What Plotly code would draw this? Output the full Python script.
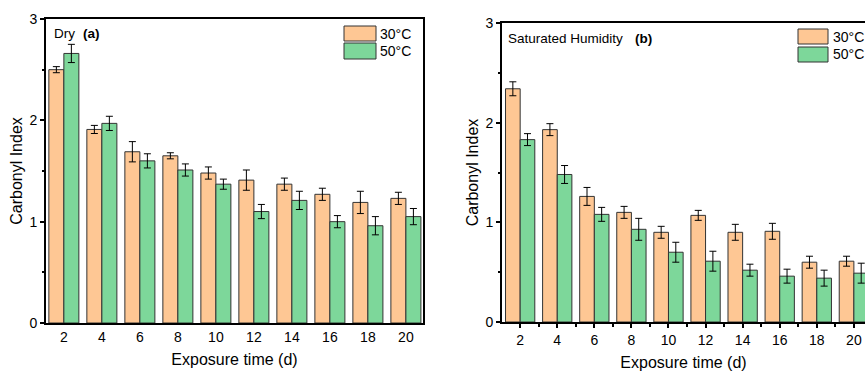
import plotly.graph_objects as go

# ---------------- data ----------------
days = ["2", "4", "6", "8", "10", "12", "14", "16", "18", "20"]

dry_30 = [2.50, 1.91, 1.69, 1.65, 1.48, 1.41, 1.37, 1.27, 1.19, 1.23]
dry_30_err = [0.03, 0.04, 0.10, 0.03, 0.06, 0.10, 0.06, 0.06, 0.11, 0.06]
dry_50 = [2.66, 1.97, 1.60, 1.51, 1.37, 1.10, 1.21, 1.00, 0.96, 1.05]
dry_50_err = [0.09, 0.07, 0.07, 0.06, 0.05, 0.07, 0.09, 0.06, 0.09, 0.08]

sat_30 = [2.34, 1.93, 1.26, 1.10, 0.90, 1.07, 0.90, 0.91, 0.60, 0.61]
sat_30_err = [0.07, 0.06, 0.09, 0.06, 0.06, 0.05, 0.08, 0.08, 0.06, 0.05]
sat_50 = [1.83, 1.48, 1.08, 0.93, 0.70, 0.61, 0.52, 0.46, 0.44, 0.49]
sat_50_err = [0.06, 0.09, 0.07, 0.11, 0.10, 0.10, 0.06, 0.07, 0.08, 0.10]

series_names = ["30°C", "50°C"]
y_ticks = [0, 1, 2, 3]

# ---------------- styles ----------------
W, H = 865, 372
C30 = "#FEC794"
C50 = "#7DD79A"
EDGE = "#333333"
FONT = "Liberation Sans, Arial, sans-serif"

def px_x(p):
    return p / W

def px_y(p):
    return 1 - p / H

xpos = list(range(len(days)))

fig = go.Figure()

def add_bars(vals, errs, color, name, xa, ya):
    fig.add_trace(go.Bar(
        x=xpos, y=vals, name=name, xaxis=xa, yaxis=ya,
        marker=dict(color=color, line=dict(color=EDGE, width=1)),
        error_y=dict(type="data", array=errs, color="black", thickness=1, width=3.5),
        showlegend=False,
    ))

add_bars(dry_30, dry_30_err, C30, series_names[0], "x", "y")
add_bars(dry_50, dry_50_err, C50, series_names[1], "x", "y")
add_bars(sat_30, sat_30_err, C30, series_names[0], "x2", "y2")
add_bars(sat_50, sat_50_err, C50, series_names[1], "x2", "y2")

tick_font = dict(family=FONT, size=14, color="black")
title_font = dict(family=FONT, size=16, color="black")

common_x = dict(
    tickmode="array", tickvals=xpos, ticktext=days,
    showgrid=False, zeroline=False, automargin=False,
    showline=True, linecolor="black", linewidth=2, mirror=True,
    tickfont=tick_font,
    title=dict(text="Exposure time (d)", font=title_font, standoff=10),
)
common_y = dict(
    range=[0, 3], tickvals=y_ticks,
    showgrid=False, zeroline=False, automargin=False,
    showline=True, linecolor="black", linewidth=2,
    ticks="outside", ticklen=4, tickwidth=1.5, tickcolor="black",
    minor=dict(ticks="outside", ticklen=2, dtick=0.5, tickcolor="black", tickwidth=1.5),
    tickfont=tick_font,
    title=dict(text="Carbonyl Index", font=title_font, standoff=3),
)

fig.update_layout(
    width=W, height=H,
    margin=dict(l=0, r=0, t=0, b=0),
    paper_bgcolor="white", plot_bgcolor="white",
    barmode="group", bargap=0.21, bargroupgap=0,
    font=dict(family=FONT, color="black"),
    showlegend=False,
    xaxis=dict(common_x, domain=[px_x(46), px_x(423)], range=[-0.47, 9.45],
               ticks="", anchor="y"),
    yaxis=dict(common_y, domain=[px_y(323), px_y(19)], anchor="x", mirror=True),
    xaxis2=dict(common_x, domain=[px_x(502), 1.0], range=[-0.49, 9.3],
                ticks="outside", ticklen=4, tickwidth=1.5, tickcolor="black",
                minor=dict(ticks="outside", ticklen=3, tickvals=[i + 0.5 for i in xpos],
                           tickcolor="black", tickwidth=1.5),
                anchor="y2"),
    yaxis2=dict(common_y, domain=[px_y(322), px_y(23)], anchor="x2", mirror=False),
)

# ---------------- panel labels ----------------
lab_font = dict(family=FONT, size=13.5, color="black")
fig.add_annotation(x=px_x(52), y=px_y(33), xref="paper", yref="paper", text="Dry",
                   showarrow=False, xanchor="left", yanchor="middle", font=lab_font)
fig.add_annotation(x=px_x(81), y=px_y(33), xref="paper", yref="paper", text="<b>(a)</b>",
                   showarrow=False, xanchor="left", yanchor="middle", font=lab_font)
fig.add_annotation(x=px_x(506), y=px_y(38), xref="paper", yref="paper", text="Saturated Humidity",
                   showarrow=False, xanchor="left", yanchor="middle", font=lab_font)
fig.add_annotation(x=px_x(633), y=px_y(38), xref="paper", yref="paper", text="<b>(b)</b>",
                   showarrow=False, xanchor="left", yanchor="middle", font=lab_font)

# ---------------- manual legends ----------------
leg_font = dict(family=FONT, size=14, color="black")

def add_legend(x0, x1, rows, text_x):
    for (y0, y1), color, name in zip(rows, [C30, C50], series_names):
        fig.add_shape(type="rect", xref="paper", yref="paper",
                      x0=px_x(x0), x1=px_x(x1), y0=px_y(y1), y1=px_y(y0),
                      fillcolor=color, line=dict(color=EDGE, width=1))
        fig.add_annotation(x=px_x(text_x), y=px_y((y0 + y1) / 2), xref="paper", yref="paper",
                           text=name, showarrow=False, xanchor="left", yanchor="middle",
                           font=leg_font)

add_legend(344, 376, [(26, 41), (43, 59)], 378)
add_legend(798, 828, [(29, 44), (47, 62)], 831)

fig.write_html("out.html")
